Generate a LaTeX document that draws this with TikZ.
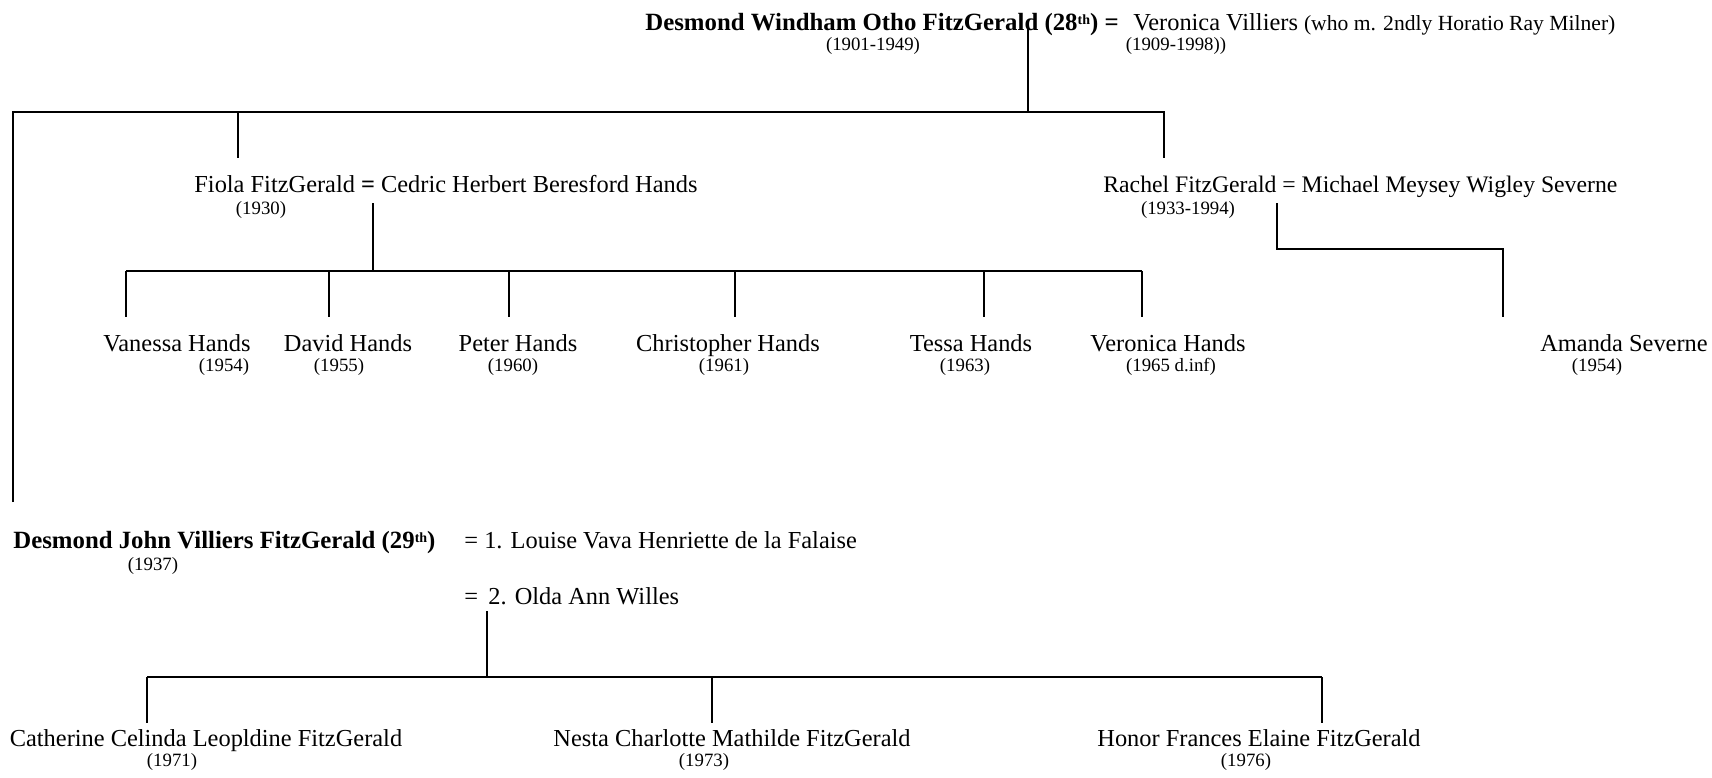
\documentclass[tikz,border=0pt]{standalone}
\usepackage{fontspec}
\setmainfont{Liberation Serif}
\newcommand{\supth}{\raisebox{0.55ex}{\fontsize{7}{8}\selectfont th}}
\begin{document}
\begin{tikzpicture}[x=0.5pt,y=-0.5pt,
  nm/.style={font=\fontsize{12.2}{14}\selectfont, inner sep=0pt, text height=8.3pt, text depth=0pt},
  bnm/.style={font=\bfseries\fontsize{12.4}{14}\selectfont, inner sep=0pt, text height=8.3pt, text depth=0pt},
  yr/.style={font=\fontsize{9.4}{11}\selectfont, inner sep=0pt},
  ln/.style={line width=0.8pt}]
\useasboundingbox (0,0) rectangle (1712,777);
% generation 1
\node[bnm, anchor=west] (d28) at (645,22) {Desmond Windham Otho FitzGerald (28\supth) =};
\node[nm, anchor=west] (vv) at (1133,22) {Veronica Villiers {\fontsize{10.8}{12}\selectfont(who m. 2ndly Horatio Ray Milner)}};
\node[yr] (d28y) at (873,46) {(1901-1949)};
\node[yr] (vvy) at (1176,46) {(1909-1998))};
% generation 2
\node[nm, anchor=west] (fiola) at (194,184) {Fiola FitzGerald {\bfseries =} Cedric Herbert Beresford Hands};
\node[yr] (fiolay) at (261,210) {(1930)};
\node[nm, anchor=west, font=\fontsize{11.85}{14}\selectfont] (rachel) at (1103,184) {Rachel FitzGerald = Michael Meysey Wigley Severne};
\node[yr] (rachely) at (1188,210) {(1933-1994)};
\node[bnm, anchor=west] (d29) at (13,540) {Desmond John Villiers FitzGerald (29\supth)};
\node[yr] (d29y) at (153,566) {(1937)};
\node[nm, anchor=west] (w1) at (464,540) {= 1. Louise Vava Henriette de la Falaise};
\node[nm, anchor=west] (w2) at (464,596) {=\, 2. Olda Ann Willes};
% Hands children
\node[nm] (c1) at (177,343) {Vanessa Hands};   \node[yr] (c1y) at (224,367) {(1954)};
\node[nm] (c2) at (348,343) {David Hands};     \node[yr] (c2y) at (339,367) {(1955)};
\node[nm] (c3) at (518,343) {Peter Hands};     \node[yr] (c3y) at (513,367) {(1960)};
\node[nm] (c4) at (728,343) {Christopher Hands}; \node[yr] (c4y) at (724,367) {(1961)};
\node[nm] (c5) at (971,343) {Tessa Hands};     \node[yr] (c5y) at (965,367) {(1963)};
\node[nm] (c6) at (1168,343) {Veronica Hands}; \node[yr] (c6y) at (1171,367) {(1965 d.inf)};
% Severne child
\node[nm] (am) at (1624,343) {Amanda Severne}; \node[yr] (amy) at (1597,367) {(1954)};
% FitzGerald children
\node[nm] (g1) at (206,738) {Catherine Celinda Leopldine FitzGerald}; \node[yr] (g1y) at (172,762) {(1971)};
\node[nm] (g2) at (732,738) {Nesta Charlotte Mathilde FitzGerald};    \node[yr] (g2y) at (704,762) {(1973)};
\node[nm] (g3) at (1259,738) {Honor Frances Elaine FitzGerald};       \node[yr] (g3y) at (1246,762) {(1976)};
% junction coordinates
\coordinate (t0) at (1028,27);
\coordinate (t1) at (1028,112);
\coordinate (bl) at (13,112);
\coordinate (br) at (1164,112);
\coordinate (bf) at (238,112);
\coordinate (bfe) at (238,158);
\coordinate (bre) at (1164,158);
\coordinate (ble) at (13,502);
\coordinate (f0) at (373,203);
\coordinate (f1) at (373,271);
\coordinate (hl) at (126,271);
\coordinate (hr) at (1142,271);
\coordinate (r0) at (1277,203);
\coordinate (r1) at (1277,249);
\coordinate (r2) at (1503,249);
\coordinate (r3) at (1503,317);
\coordinate (k0) at (487,611);
\coordinate (k1) at (487,677);
\coordinate (kl) at (147,677);
\coordinate (kr) at (1322,677);
% connectors
\draw[ln] (t0) -- (t1);
\draw[ln] (ble) -- (bl) -- (br) -- (bre);
\draw[ln] (bf) -- (bfe);
\draw[ln] (f0) -- (f1);
\draw[ln] (hl) -- (hr);
\foreach \x in {126,329,509,735,984,1142} \draw[ln] (\x,271) -- (\x,317);
\draw[ln] (r0) -- (r1) -- (r2) -- (r3);
\draw[ln] (k0) -- (k1);
\draw[ln] (kl) -- (kr);
\foreach \x in {147,712,1322} \draw[ln] (\x,677) -- (\x,723);
\end{tikzpicture}
\end{document}
